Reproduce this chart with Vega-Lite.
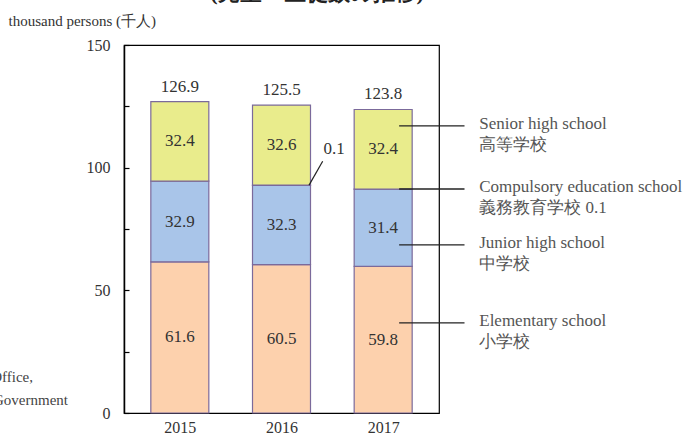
{
  "$schema": "https://vega.github.io/schema/vega-lite/v6.json",
  "autosize": {"type": "none"},
  "padding": {"left": 124, "top": 45, "right": 255, "bottom": 22},
  "width": 315,
  "height": 368,
  "background": "white",
  "config": {
    "view": {"stroke": "#000", "strokeWidth": 1.2},
    "font": "Liberation Serif",
    "text": {"font": "Liberation Serif", "fontSize": 16, "color": "#333"}
  },
  "datasets": {
    "students": [
      {"year": 2015, "school": "Elementary school", "value": 61.6, "order": 1},
      {"year": 2015, "school": "Junior high school", "value": 32.9, "order": 2},
      {"year": 2015, "school": "Compulsory education school", "value": 0, "order": 3},
      {"year": 2015, "school": "Senior high school", "value": 32.4, "order": 4},
      {"year": 2016, "school": "Elementary school", "value": 60.5, "order": 1},
      {"year": 2016, "school": "Junior high school", "value": 32.3, "order": 2},
      {"year": 2016, "school": "Compulsory education school", "value": 0.1, "order": 3},
      {"year": 2016, "school": "Senior high school", "value": 32.6, "order": 4},
      {"year": 2017, "school": "Elementary school", "value": 59.8, "order": 1},
      {"year": 2017, "school": "Junior high school", "value": 31.4, "order": 2},
      {"year": 2017, "school": "Compulsory education school", "value": 0.1, "order": 3},
      {"year": 2017, "school": "Senior high school", "value": 32.4, "order": 4}
    ],
    "totals": [
      {"year": 2015, "total": 126.9},
      {"year": 2016, "total": 125.5},
      {"year": 2017, "total": 123.8}
    ],
    "notes": [
      {"level": 117.0, "label": ["Senior high school", "高等学校"]},
      {"level": 91.3, "label": ["Compulsory education school", "義務教育学校  0.1"]},
      {"level": 68.5, "label": ["Junior high school", "中学校"]},
      {"level": 36.7, "label": ["Elementary school", "小学校"]}
    ]
  },
  "layer": [
    {
      "data": {"name": "students"},
      "transform": [
        {"stack": "value", "groupby": ["year"], "sort": [{"field": "order", "order": "ascending"}], "as": ["y0", "y1"]}
      ],
      "mark": {"type": "bar", "size": 58, "stroke": "#7b6a9b", "strokeWidth": 1.2},
      "encoding": {
        "x": {
          "field": "year", "type": "quantitative",
          "scale": {"domain": [2014.5, 2017.5], "nice": false, "zero": false},
          "axis": {
            "values": [2015, 2016, 2017], "format": "d", "title": null,
            "domain": false, "ticks": false, "grid": false,
            "labelFont": "Liberation Serif", "labelFontSize": 16, "labelColor": "#333",
            "labelPadding": 6
          }
        },
        "y": {
          "field": "y1", "type": "quantitative",
          "scale": {"domain": [0, 150], "nice": false},
          "axis": {
            "values": [0, 25, 50, 75, 100, 125, 150],
            "labelExpr": "datum.value % 50 == 0 ? datum.label : ''",
            "grid": false, "tickSize": -5, "tickColor": "#000", "tickWidth": 1.2,
            "domainColor": "#000", "domainWidth": 1.5,
            "labelFont": "Liberation Serif", "labelFontSize": 16, "labelColor": "#333",
            "labelPadding": 19,
            "title": "thousand  persons (千人)",
            "titleFont": "Liberation Serif", "titleFontSize": 15,
            "titleFontWeight": "normal", "titleColor": "#333",
            "titleAngle": 0, "titleAlign": "left", "titleBaseline": "middle",
            "titleX": -116, "titleY": -25
          }
        },
        "y2": {"field": "y0"},
        "color": {
          "field": "school", "type": "nominal",
          "scale": {
            "domain": ["Elementary school", "Junior high school", "Compulsory education school", "Senior high school"],
            "range": ["#fdd1ad", "#a9c5e9", "#c9dfb0", "#e9ec8c"]
          },
          "legend": null
        }
      }
    },
    {
      "data": {"name": "students"},
      "transform": [
        {"stack": "value", "groupby": ["year"], "sort": [{"field": "order", "order": "ascending"}], "as": ["y0", "y1"]},
        {"filter": "datum.school != 'Compulsory education school'"},
        {"calculate": "(datum.y0 + datum.y1) / 2", "as": "mid"}
      ],
      "mark": {"type": "text", "baseline": "middle", "align": "center", "fontSize": 17},
      "encoding": {
        "x": {"field": "year", "type": "quantitative"},
        "y": {"field": "mid", "type": "quantitative"},
        "text": {"field": "value", "type": "quantitative", "format": ".1f"}
      }
    },
    {
      "data": {"name": "totals"},
      "mark": {"type": "text", "baseline": "middle", "align": "center", "dy": -15, "fontSize": 17},
      "encoding": {
        "x": {"field": "year", "type": "quantitative"},
        "y": {"field": "total", "type": "quantitative"},
        "text": {"field": "total", "type": "quantitative", "format": ".1f"}
      }
    },
    {
      "data": {"name": "notes"},
      "mark": {"type": "rule", "color": "#222", "strokeWidth": 1.3, "clip": false},
      "encoding": {
        "x": {"datum": 2017.157},
        "x2": {"datum": 2017.8},
        "y": {"field": "level", "type": "quantitative"}
      }
    },
    {
      "data": {"name": "notes"},
      "mark": {"type": "text", "align": "left", "baseline": "top", "dy": -10, "lineHeight": 21, "color": "#555", "fontSize": 17, "clip": false},
      "encoding": {
        "x": {"datum": 2017.945},
        "y": {"field": "level", "type": "quantitative"},
        "text": {"field": "label"}
      }
    },
    {
      "data": {"values": [{"note": "0.1"}]},
      "mark": {"type": "rule", "color": "#222", "strokeWidth": 1.2},
      "encoding": {
        "x": {"datum": 2016.271},
        "y": {"datum": 92.9},
        "x2": {"datum": 2016.405},
        "y2": {"datum": 102.6}
      }
    },
    {
      "data": {"values": [{"note": "0.1"}]},
      "mark": {"type": "text", "align": "left", "baseline": "middle", "fontSize": 17},
      "encoding": {
        "x": {"datum": 2016.414},
        "y": {"datum": 107.6},
        "text": {"field": "note"}
      }
    },
    {
      "data": {"values": [{"line": "Statistics Office,"}]},
      "mark": {"type": "text", "align": "right", "baseline": "middle", "fontSize": 15, "color": "#444", "dx": -96, "dy": -36},
      "encoding": {
        "x": {"datum": 2014.5},
        "y": {"datum": 0},
        "text": {"field": "line"}
      }
    },
    {
      "data": {"values": [{"line": "Tokyo Metropolitan Government"}]},
      "mark": {"type": "text", "align": "right", "baseline": "middle", "fontSize": 15, "color": "#444", "dx": -61, "dy": -13},
      "encoding": {
        "x": {"datum": 2014.5},
        "y": {"datum": 0},
        "text": {"field": "line"}
      }
    },
    {
      "data": {"values": [{"title": "(児童・生徒数の推移)"}]},
      "mark": {"type": "text", "align": "center", "baseline": "bottom", "fontSize": 22, "fontWeight": "bold", "color": "#222", "dy": -40},
      "encoding": {
        "x": {"datum": 2016.35},
        "y": {"datum": 150},
        "text": {"field": "title"}
      }
    }
  ]
}
